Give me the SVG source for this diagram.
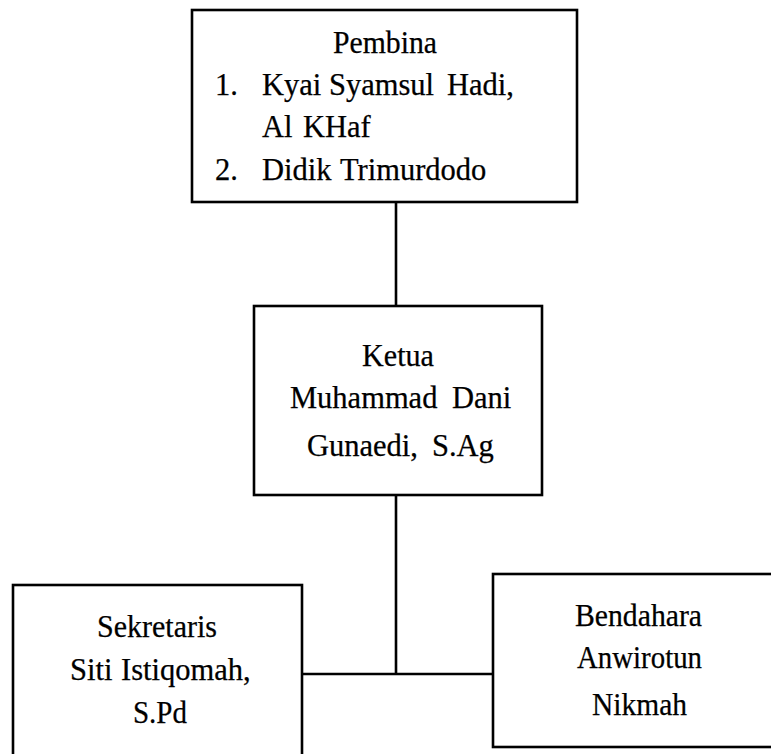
<svg xmlns="http://www.w3.org/2000/svg" width="771" height="754" viewBox="0 0 771 754">
<style>
.box{fill:#fff;stroke:#000;stroke-width:2.6}
.t{font-family:"Liberation Serif","Times New Roman",serif;font-size:30.5px;fill:#000;stroke:#000;stroke-width:0.25}
.c{stroke:#000;stroke-width:2.6;fill:none}
</style>
<rect width="771" height="754" fill="#fff"/>
<g id="connectors">
<line class="c" x1="396" y1="202" x2="396" y2="306"/>
<line class="c" x1="396" y1="495" x2="396" y2="674"/>
<line class="c" x1="302" y1="674" x2="493" y2="674"/>
</g>
<g id="pembina">
<rect class="box" x="192" y="10" width="385" height="192"/>
<text class="t" x="333" y="53" textLength="104" lengthAdjust="spacingAndGlyphs">Pembina</text>
<text class="t" x="215" y="95">1.</text>
<text class="t" y="95"><tspan x="262">Kyai</tspan> <tspan x="329">Syamsul</tspan> <tspan x="447">Hadi,</tspan></text>
<text class="t" y="137"><tspan x="262">Al</tspan> <tspan x="303">KHaf</tspan></text>
<text class="t" x="215" y="180">2.</text>
<text class="t" y="180"><tspan x="262">Didik</tspan> <tspan x="340">Trimurdodo</tspan></text>
</g>
<g id="ketua">
<rect class="box" x="254" y="306" width="288" height="189"/>
<text class="t" x="362" y="366" textLength="72" lengthAdjust="spacingAndGlyphs">Ketua</text>
<text class="t" y="408"><tspan x="290">Muhammad</tspan> <tspan x="452">Dani</tspan></text>
<text class="t" y="456"><tspan x="307">Gunaedi,</tspan> <tspan x="432">S.Ag</tspan></text>
</g>
<g id="sekretaris">
<rect class="box" x="13" y="585" width="289" height="180"/>
<text class="t" x="97" y="637" textLength="120" lengthAdjust="spacingAndGlyphs">Sekretaris</text>
<text class="t" y="680"><tspan x="70">Siti</tspan> <tspan x="121">Istiqomah,</tspan></text>
<text class="t" x="133" y="723" textLength="54" lengthAdjust="spacingAndGlyphs">S.Pd</text>
</g>
<g id="bendahara">
<rect class="box" x="493" y="574" width="292" height="173"/>
<text class="t" x="575" y="626" textLength="127" lengthAdjust="spacingAndGlyphs">Bendahara</text>
<text class="t" x="577" y="668" textLength="125" lengthAdjust="spacingAndGlyphs">Anwirotun</text>
<text class="t" x="592" y="715" textLength="95" lengthAdjust="spacingAndGlyphs">Nikmah</text>
</g>
</svg>
